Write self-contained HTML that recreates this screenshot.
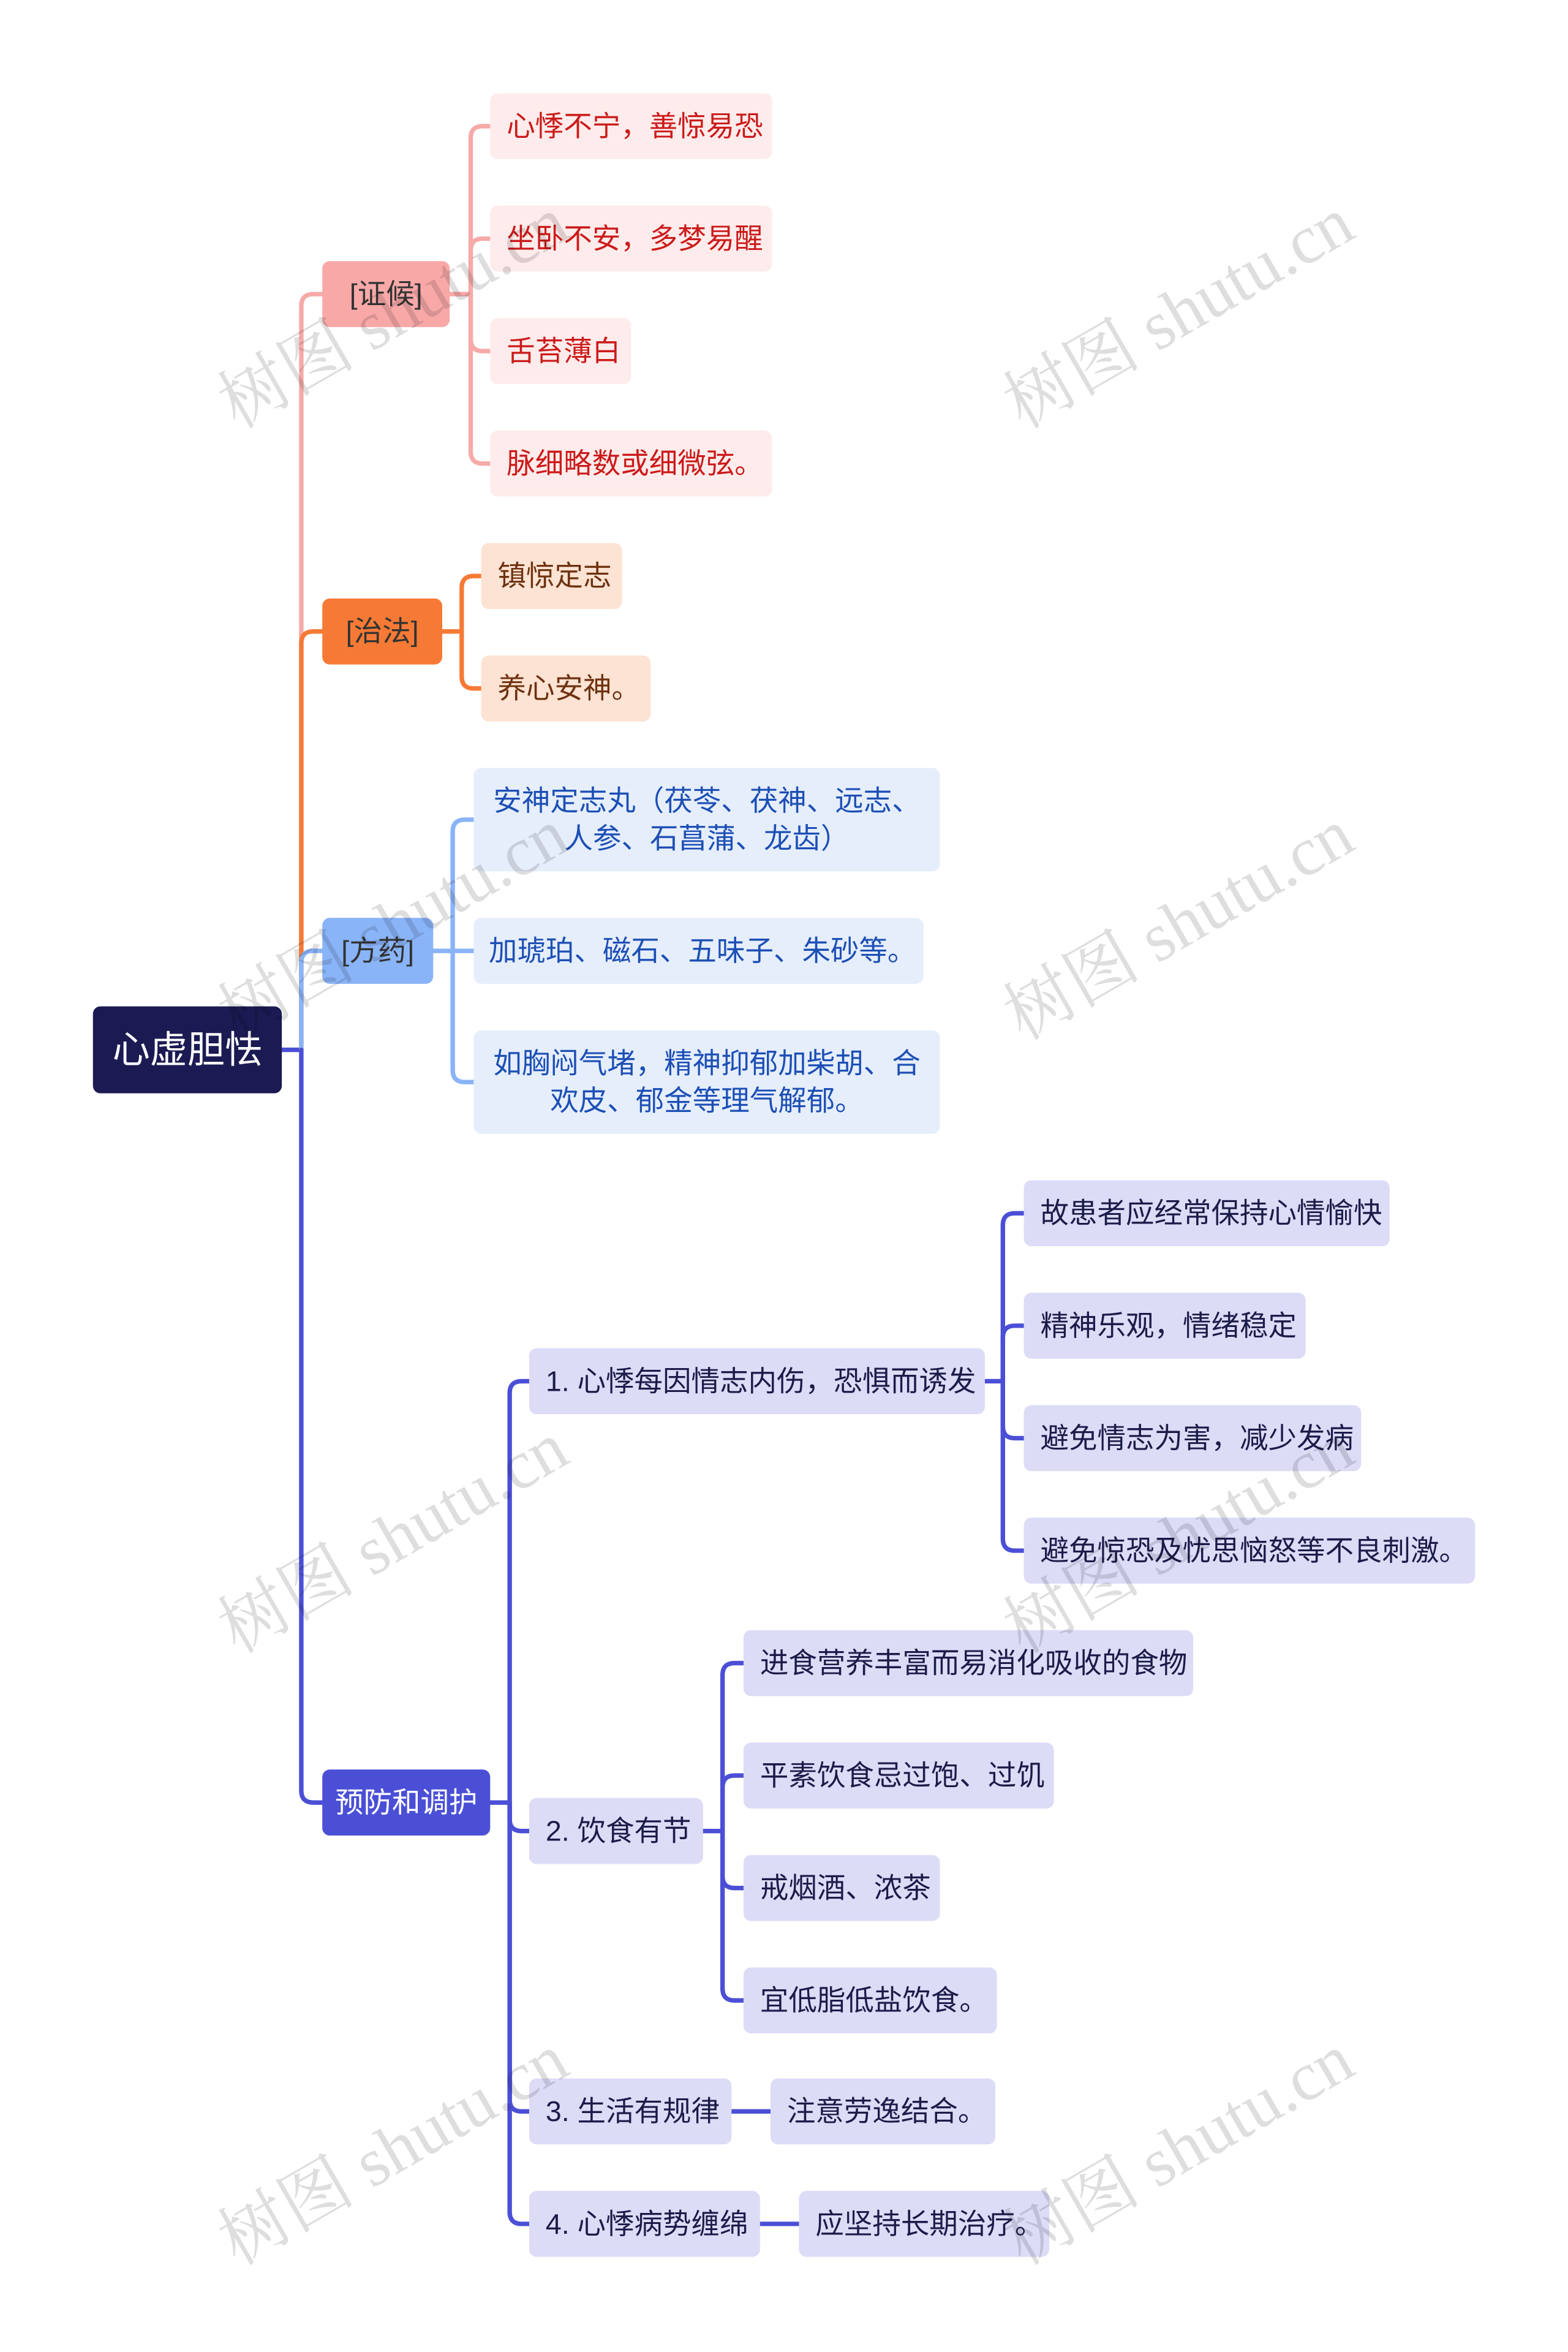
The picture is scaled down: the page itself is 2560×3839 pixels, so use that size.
<!DOCTYPE html>
<html><head><meta charset="utf-8">
<style>
html,body{margin:0;padding:0;background:#fff;}
svg{display:block;}
text{font-family:"Liberation Sans","Noto Sans CJK SC",sans-serif;font-size:19px;}
text.wm{font-family:"Liberation Serif","Noto Serif CJK SC",serif;font-size:46px;}
</style></head>
<body>
<svg width="2560" height="3839" viewBox="0 0 1046 1568.3" xmlns="http://www.w3.org/2000/svg">
<g fill="none" stroke-width="3" stroke-linecap="round">
<path d="M188,700 H201" stroke="#4b4fd6"/>
<path d="M201,700 V204 Q201,196 209,196 H215" stroke="#f6aaa8"/>
<path d="M201,700 V429 Q201,421 209,421 H215" stroke="#f67a35"/>
<path d="M201,700 V642 Q201,634 209,634 H215" stroke="#8ab4f8"/>
<path d="M201,700 V1194 Q201,1202 209,1202 H215" stroke="#4b4fd6"/>
<g stroke="#f6aaa8">
<path d="M300,196 H314"/>
<path d="M314,196 V92 Q314,84 322,84 H327"/>
<path d="M314,196 V167 Q314,159 322,159 H327"/>
<path d="M314,196 V226 Q314,234 322,234 H327"/>
<path d="M314,196 V301 Q314,309 322,309 H327"/>
</g>
<g stroke="#f67a35">
<path d="M295,421 H308"/>
<path d="M308,421 V392 Q308,384 316,384 H321"/>
<path d="M308,421 V451 Q308,459 316,459 H321"/>
</g>
<g stroke="#8ab4f8">
<path d="M289,634 H316"/>
<path d="M302,634 V554.5 Q302,546.5 310,546.5 H316"/>
<path d="M302,634 V713.5 Q302,721.5 310,721.5 H316"/>
</g>
<g stroke="#4b4fd6">
<path d="M327,1202 H340"/>
<path d="M340,1202 V929 Q340,921 348,921 H353"/>
<path d="M340,1202 V1213 Q340,1221 348,1221 H353"/>
<path d="M340,1202 V1400 Q340,1408 348,1408 H353"/>
<path d="M340,1202 V1475 Q340,1483 348,1483 H353"/>
<path d="M657,921 H669"/>
<path d="M669,921 V817 Q669,809 677,809 H683"/>
<path d="M669,921 V892 Q669,884 677,884 H683"/>
<path d="M669,921 V951 Q669,959 677,959 H683"/>
<path d="M669,921 V1026 Q669,1034 677,1034 H683"/>
<path d="M469,1221 H482"/>
<path d="M482,1221 V1117 Q482,1109 490,1109 H496"/>
<path d="M482,1221 V1192 Q482,1184 490,1184 H496"/>
<path d="M482,1221 V1251 Q482,1259 490,1259 H496"/>
<path d="M482,1221 V1326 Q482,1334 490,1334 H496"/>
<path d="M488,1408 H514"/>
<path d="M507,1483 H533"/>
</g>
</g>

<rect x="62" y="671" width="126" height="58" rx="5" fill="#1b1a52"/>
<text x="125" y="708.5" text-anchor="middle" fill="#fff" style="font-size:25px">心虚胆怯</text>

<rect x="215" y="174" width="85" height="44" rx="5" fill="#f9a8a8"/>
<text x="257.5" y="202.5" text-anchor="middle" fill="#333">[证候]</text>
<rect x="215" y="399" width="80" height="44" rx="5" fill="#f67a35"/>
<text x="255" y="427.5" text-anchor="middle" fill="#333">[治法]</text>
<rect x="215" y="612" width="74" height="44" rx="5" fill="#8ab4f8"/>
<text x="252" y="640.5" text-anchor="middle" fill="#333">[方药]</text>
<rect x="215" y="1180" width="112" height="44" rx="5" fill="#4b4fd6"/>
<text x="271" y="1208.5" text-anchor="middle" fill="#fff">预防和调护</text>

<g fill="#fdeceb">
<rect x="327" y="62" width="188" height="44" rx="5"/>
<rect x="327" y="137" width="188" height="44" rx="5"/>
<rect x="327" y="212" width="94" height="44" rx="5"/>
<rect x="327" y="287" width="188" height="44" rx="5"/>
</g>
<g fill="#cc1a1a">
<text x="338" y="90.5">心悸不宁，善惊易恐</text>
<text x="338" y="165.5">坐卧不安，多梦易醒</text>
<text x="338" y="240.5">舌苔薄白</text>
<text x="338" y="315.5">脉细略数或细微弦。</text>
</g>

<g fill="#fde3d3">
<rect x="321" y="362" width="94" height="44" rx="5"/>
<rect x="321" y="437" width="113" height="44" rx="5"/>
</g>
<g fill="#6e3210">
<text x="332" y="390.5">镇惊定志</text>
<text x="332" y="465.5">养心安神。</text>
</g>

<g fill="#e6eefc">
<rect x="316" y="512" width="311" height="69" rx="5"/>
<rect x="316" y="612" width="300" height="44" rx="5"/>
<rect x="316" y="687" width="311" height="69" rx="5"/>
</g>
<g fill="#1d4fb5">
<text x="471.5" y="540.5" text-anchor="middle">安神定志丸（茯苓、茯神、远志、</text>
<text x="471.5" y="565.5" text-anchor="middle">人参、石菖蒲、龙齿）</text>
<text x="326" y="640.5">加琥珀、磁石、五味子、朱砂等。</text>
<text x="471.5" y="715.5" text-anchor="middle">如胸闷气堵，精神抑郁加柴胡、合</text>
<text x="471.5" y="740.5" text-anchor="middle">欢皮、郁金等理气解郁。</text>
</g>

<g fill="#dcdcf7">
<rect x="353" y="899" width="304" height="44" rx="5"/>
<rect x="353" y="1199" width="116" height="44" rx="5"/>
<rect x="353" y="1386" width="135" height="44" rx="5"/>
<rect x="353" y="1461" width="154" height="44" rx="5"/>
<rect x="683" y="787" width="244" height="44" rx="5"/>
<rect x="683" y="862" width="188" height="44" rx="5"/>
<rect x="683" y="937" width="225" height="44" rx="5"/>
<rect x="683" y="1012" width="301" height="44" rx="5"/>
<rect x="496" y="1087" width="300" height="44" rx="5"/>
<rect x="496" y="1162" width="207" height="44" rx="5"/>
<rect x="496" y="1237" width="131" height="44" rx="5"/>
<rect x="496" y="1312" width="169" height="44" rx="5"/>
<rect x="514" y="1386" width="150" height="44" rx="5"/>
<rect x="533" y="1461" width="167" height="44" rx="5"/>
</g>
<g fill="#1c1c4a">
<text x="364" y="927.5">1. 心悸每因情志内伤，恐惧而诱发</text>
<text x="364" y="1227.5">2. 饮食有节</text>
<text x="364" y="1414.5">3. 生活有规律</text>
<text x="364" y="1489.5">4. 心悸病势缠绵</text>
<text x="694" y="815.5">故患者应经常保持心情愉快</text>
<text x="694" y="890.5">精神乐观，情绪稳定</text>
<text x="694" y="965.5">避免情志为害，减少发病</text>
<text x="694" y="1040.5">避免惊恐及忧思恼怒等不良刺激。</text>
<text x="507" y="1115.5">进食营养丰富而易消化吸收的食物</text>
<text x="507" y="1190.5">平素饮食忌过饱、过饥</text>
<text x="507" y="1265.5">戒烟酒、浓茶</text>
<text x="507" y="1340.5">宜低脂低盐饮食。</text>
<text x="525" y="1414.5">注意劳逸结合。</text>
<text x="544" y="1489.5">应坚持长期治疗。</text>
</g>

<g fill="#000" fill-opacity="0.13">
<text class="wm" x="262" y="224" text-anchor="middle" transform="rotate(-30 262 208)">树图 shutu.cn</text>
<text class="wm" x="786" y="224" text-anchor="middle" transform="rotate(-30 786 208)">树图 shutu.cn</text>
<text class="wm" x="262" y="632" text-anchor="middle" transform="rotate(-30 262 616)">树图 shutu.cn</text>
<text class="wm" x="786" y="632" text-anchor="middle" transform="rotate(-30 786 616)">树图 shutu.cn</text>
<text class="wm" x="262" y="1041" text-anchor="middle" transform="rotate(-30 262 1025)">树图 shutu.cn</text>
<text class="wm" x="786" y="1041" text-anchor="middle" transform="rotate(-30 786 1025)">树图 shutu.cn</text>
<text class="wm" x="262" y="1449" text-anchor="middle" transform="rotate(-30 262 1433)">树图 shutu.cn</text>
<text class="wm" x="786" y="1449" text-anchor="middle" transform="rotate(-30 786 1433)">树图 shutu.cn</text>
</g>
</svg>
</body></html>
